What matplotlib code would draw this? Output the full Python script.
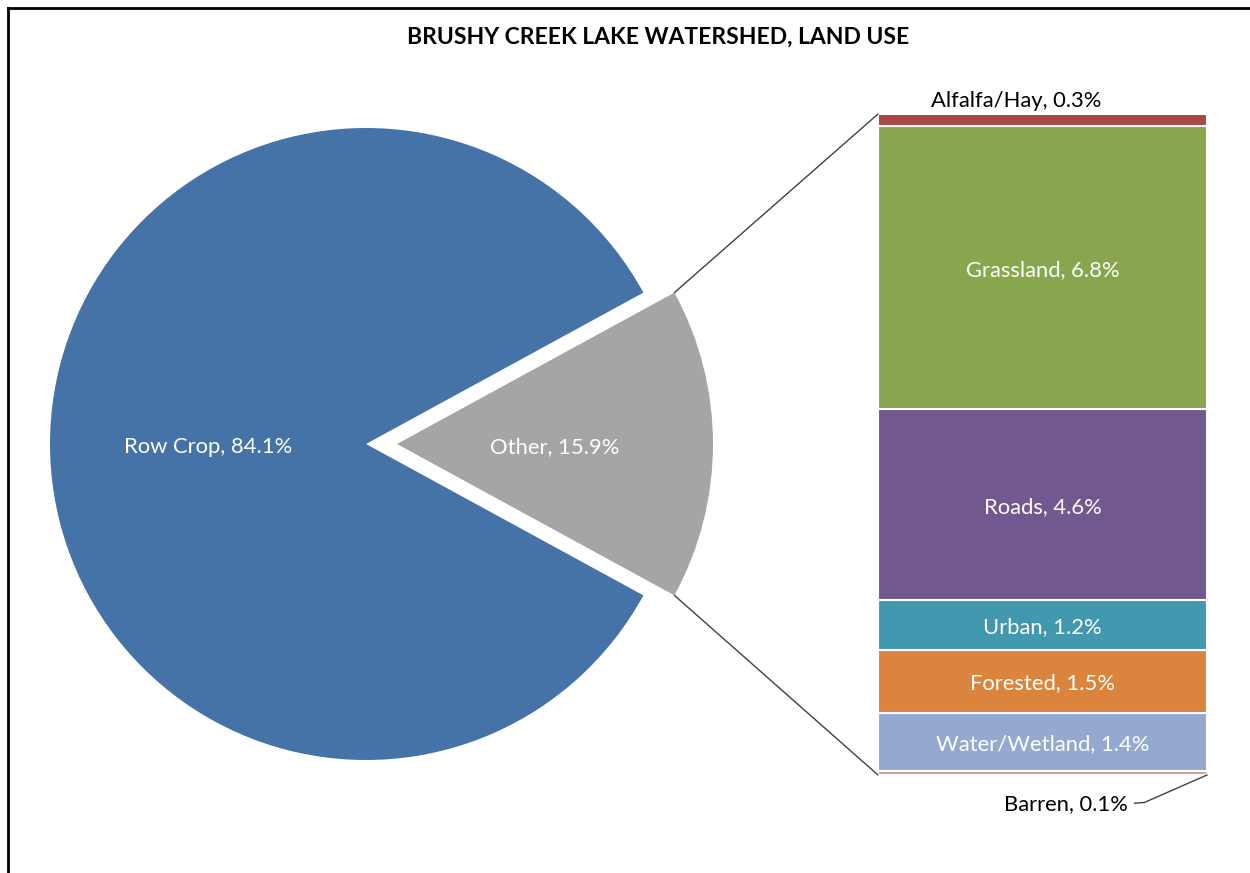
import matplotlib
matplotlib.use("Agg")
import matplotlib.pyplot as plt
import numpy as np
from matplotlib.lines import Line2D
from matplotlib.patches import ConnectionPatch

plt.rcParams['font.family'] = ['Lato', 'DejaVu Sans']

# main pie
pie_labels = ["Other", "Row Crop"]
pie_values = [15.9, 84.1]
pie_colors = ["#A5A5A5", "#4572A7"]

# breakdown of "Other", listed bottom to top of the stacked bar
sub_labels = ["Barren", "Water/Wetland", "Forested", "Urban", "Roads", "Grassland", "Alfalfa/Hay"]
sub_values = [0.1, 1.4, 1.5, 1.2, 4.6, 6.8, 0.3]
sub_colors = ["#D99694", "#93A9CF", "#DB843D", "#4198AF", "#71588F", "#89A54E", "#AA4643"]

W, H = 1250, 873
fs = 15.8
fig = plt.figure(figsize=(W / 100, H / 100), dpi=100)

# pie axes in pixel units (y up)
ax = fig.add_axes([0, 0, 1, 1])
cx, cy, r = 366, H - 444, 316
start = -pie_values[0] / 100 * 360 / 2
wedges, _ = ax.pie(pie_values, colors=pie_colors, startangle=start, radius=r,
                   center=(cx, cy), explode=[31, 0],
                   wedgeprops=dict(linewidth=0))
ax.set_xlim(0, W)
ax.set_ylim(0, H)
ax.set_aspect('auto')
ax.axis('off')

for w, lab, val in zip(wedges, pie_labels, pie_values):
    th = np.deg2rad((w.theta1 + w.theta2) / 2)
    x0, y0 = w.center
    ax.text(x0 + 0.5 * r * np.cos(th), y0 + 0.5 * r * np.sin(th) - 3,
            "%s, %.1f%%" % (lab, val), color="white", fontsize=fs,
            ha="center", va="center")

# stacked bar for the breakdown
bx0, bx1, by0, by1 = 878, 1207, H - 775, H - 114
axb = fig.add_axes([bx0 / W, by0 / H, (bx1 - bx0) / W, (by1 - by0) / H])
total = sum(sub_values)
bottoms = np.concatenate([[0], np.cumsum(sub_values)[:-1]])
axb.bar(np.zeros(len(sub_values)), sub_values, bottom=bottoms, width=1,
        color=sub_colors, edgecolor="white", linewidth=1.5)
axb.set_xlim(-0.5, 0.5)
axb.set_ylim(0, total)
axb.axis('off')

for lab, val, b in zip(sub_labels, sub_values, bottoms):
    txt = "%s, %.1f%%" % (lab, val)
    if val >= 1:
        axb.text(0, b + val / 2 - 0.05, txt, color="white", fontsize=fs,
                 ha="center", va="center")
    elif lab == "Alfalfa/Hay":
        axb.text(-0.08, total + 0.32, txt, color="black", fontsize=fs,
                 ha="center", va="center", clip_on=False)
    else:
        axb.text(0.07, -0.7, txt, color="black", fontsize=fs,
                 ha="center", va="center", clip_on=False)
        axb.plot([0.28, 0.31, 0.5], [-0.68, -0.66, 0.0], color="#404040",
                 lw=1, clip_on=False)

# connector lines from the exploded slice to the bar
ow = wedges[0]
ox, oy = ow.center
for ang, yb in [(ow.theta2, total), (ow.theta1, 0)]:
    a = np.deg2rad(ang)
    con = ConnectionPatch(xyA=(ox + r * np.cos(a), oy + r * np.sin(a)), coordsA=ax.transData,
                          xyB=(-0.5, yb), coordsB=axb.transData,
                          color="#404040", lw=1)
    fig.add_artist(con)

fig.text(658 / W, 1 - 37 / H, "BRUSHY CREEK LAKE WATERSHED, LAND USE",
         fontsize=16.5, fontweight="bold", ha="center", va="center")

# frame edges
fig.add_artist(Line2D([8 / W, 1], [1 - 8 / H, 1 - 8 / H], color="black", lw=2))
fig.add_artist(Line2D([8 / W, 8 / W], [0, 1 - 8 / H], color="black", lw=2))

fig.savefig("out.png", dpi=100, facecolor="white")
